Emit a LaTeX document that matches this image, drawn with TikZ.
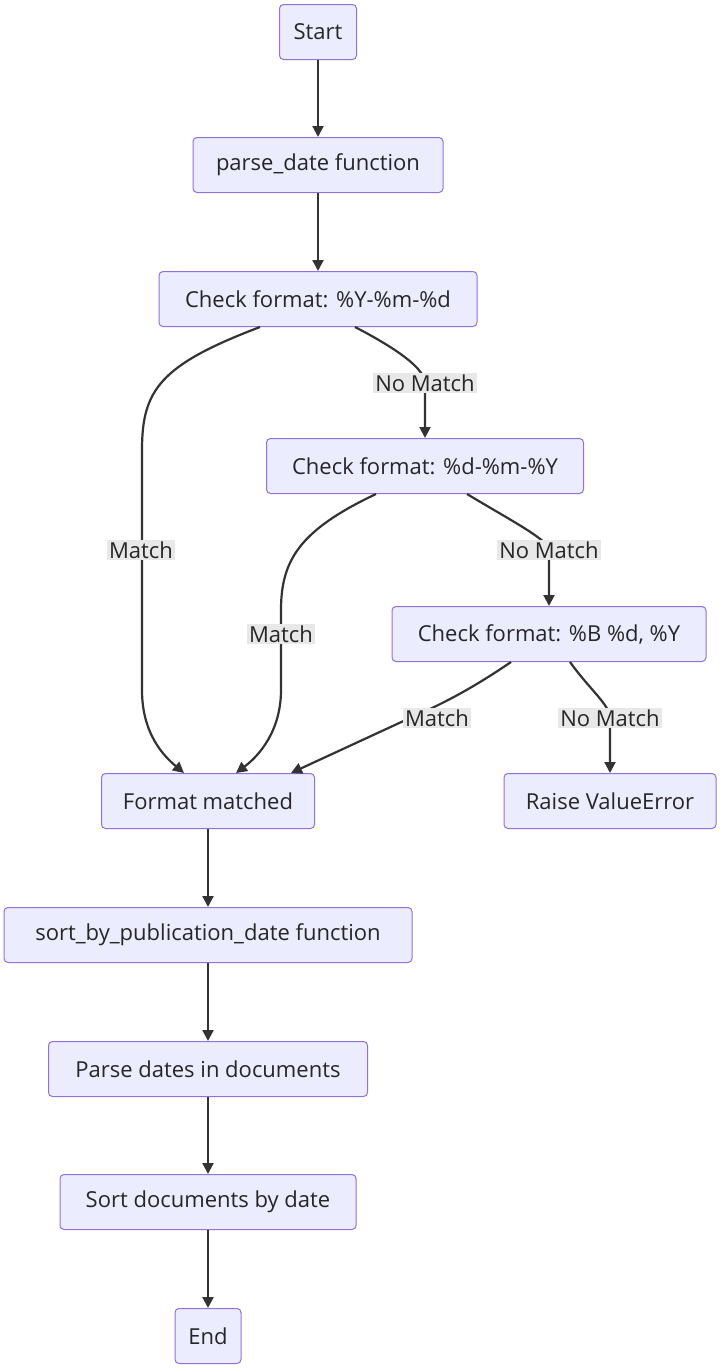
\documentclass[tikz,border=0pt]{standalone}
\usepackage{fontspec}
\setmainfont{Open Sans}
\usetikzlibrary{arrows.meta, positioning}
\definecolor{boxfill}{HTML}{ECECFF}
\definecolor{boxline}{HTML}{9370DB}
\definecolor{edgecol}{HTML}{333333}
\definecolor{lblfill}{HTML}{E8E8E8}

\begin{document}
\begin{tikzpicture}[x=1pt, y=-1pt,
    box/.style={draw=boxline, fill=boxfill, line width=1pt, rounded corners=4pt,
        minimum height=55pt, inner xsep=4pt, font=\fontsize{22}{26}\selectfont, text=black!85},
    edge/.style={draw=edgecol, line width=2.2pt, -{Triangle[length=11pt,width=11pt]}},
    lbl/.style={fill=lblfill, inner sep=2pt, font=\fontsize{22}{26}\selectfont, text=black!85}]
    \useasboundingbox (0,0) rectangle (720,1368);

    % Nodes
    \node[box, minimum width=77pt] (start) at (318,32) {Start};
    \node[box, minimum width=250pt] (parse) at (318,165) {parse\_date function};
    \node[box, minimum width=318pt] (chkA) at (318,299) {Check format: \%Y-\%m-\%d};
    \node[box, minimum width=317pt] (chkB) at (425,466) {Check format: \%d-\%m-\%Y};
    \node[box, minimum width=314pt] (chkC) at (549,634) {Check format: \%B \%d, \%Y};
    \node[box, minimum width=213pt] (matched) at (208,801) {Format matched};
    \node[box, minimum width=212pt] (raise) at (610,801) {Raise ValueError};
    \node[box, minimum width=408pt] (sortfn) at (208,935) {sort\_by\_publication\_date function};
    \node[box, minimum width=319pt] (parsedocs) at (208,1069) {Parse dates in documents};
    \node[box, minimum width=296pt] (sortdocs) at (208,1202) {Sort documents by date};
    \node[box, minimum width=66pt] (end) at (208,1336) {End};

    % Straight connectors
    \draw[edge] (start) -- (parse);
    \draw[edge] (parse) -- (chkA);
    \draw[edge] (matched) -- (sortfn);
    \draw[edge] (sortfn) -- (parsedocs);
    \draw[edge] (parsedocs) -- (sortdocs);
    \draw[edge] (sortdocs) -- (end);

    % Branches
    \draw[edge] ([xshift=-58pt]chkA.south) .. controls (160,365) and (142,390) .. (142,450)
        -- (142,690) .. controls (142,735) and (165,757) .. ([xshift=-24pt]matched.north);
    \draw[edge] ([xshift=37pt]chkA.south) .. controls (380,340) and (425,365) .. (425,383)
        -- (chkB.north);
    \draw[edge] ([xshift=-49pt]chkB.south) .. controls (300,530) and (281,560) .. (281,610)
        -- (281,690) .. controls (281,730) and (260,755) .. ([xshift=28pt]matched.north);
    \draw[edge] ([xshift=42pt]chkB.south) .. controls (510,520) and (549,540) .. (549,550)
        -- (chkC.north);
    \draw[edge] ([xshift=-38pt]chkC.south) .. controls (470,690) and (440,705) .. (410,718)
        -- ([xshift=83pt]matched.north);
    \draw[edge] ([xshift=21pt]chkC.south) .. controls (590,690) and (610,705) .. (610,718)
        -- (raise.north);

    % Labels
    \node[lbl] (lA1) at (141,550) {Match};
    \node[lbl] (lA2) at (425,383) {No Match};
    \node[lbl] (lB1) at (281,634) {Match};
    \node[lbl] (lB2) at (549,550) {No Match};
    \node[lbl] (lC1) at (437,718) {Match};
    \node[lbl] (lC2) at (610,718) {No Match};
\end{tikzpicture}
\end{document}
